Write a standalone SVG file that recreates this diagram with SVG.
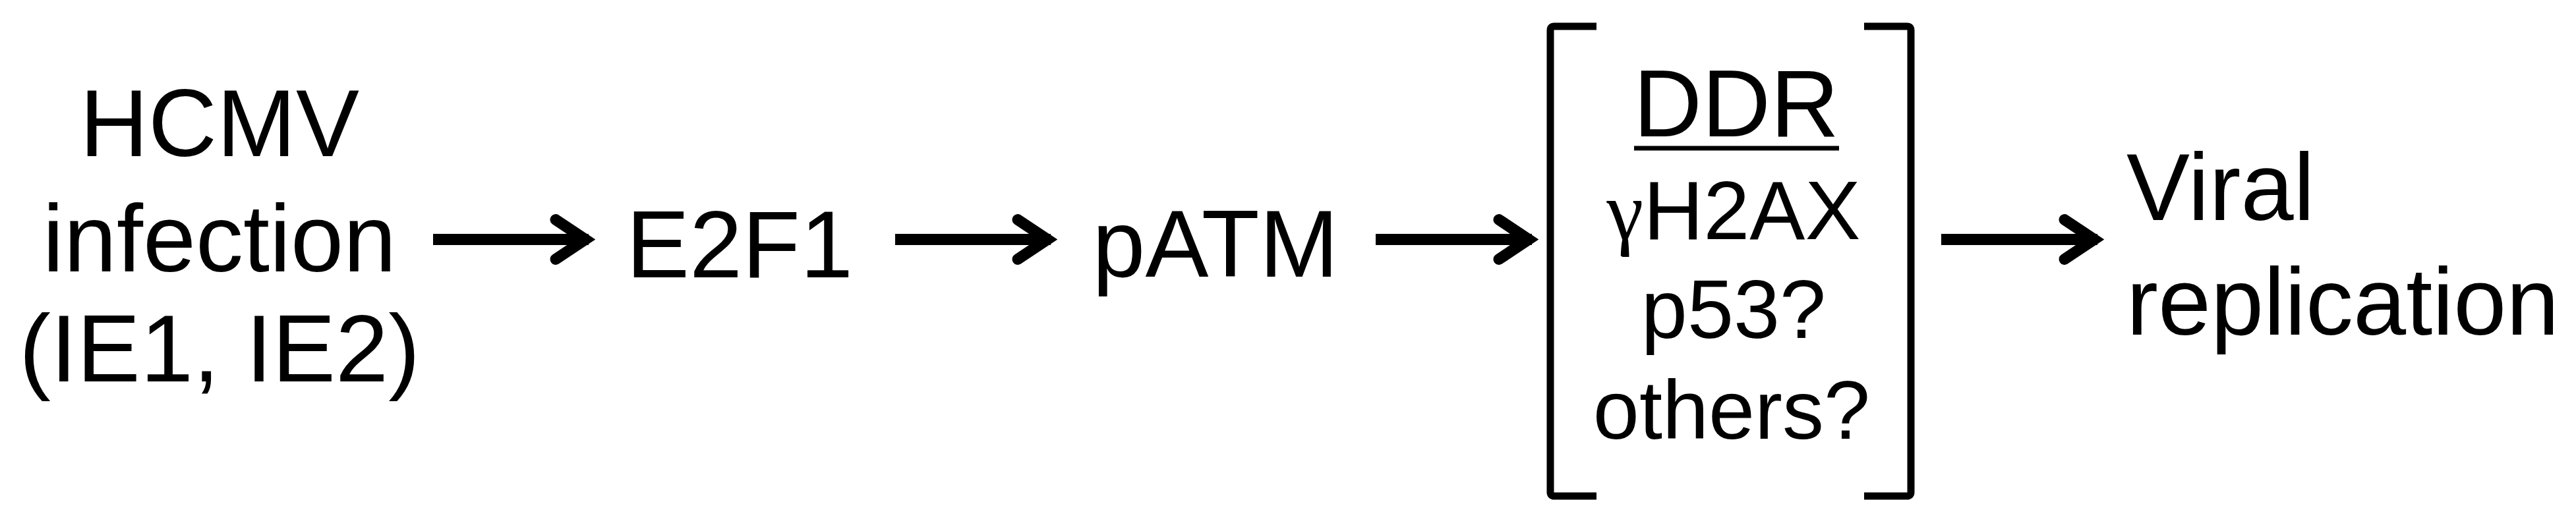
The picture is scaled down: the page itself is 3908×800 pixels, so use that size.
<svg xmlns="http://www.w3.org/2000/svg" width="3908" height="800" viewBox="0 0 3908 800">
<style>
  text { font-family: "Liberation Sans", Arial, sans-serif; fill: #000; }
  .big { font-size: 144px; }
  .mid { font-size: 126px; }
  .greek { font-family: "Liberation Serif", "Times New Roman", serif; }
  .shaft { stroke: #000; stroke-width: 17; fill: none; }
  .head { stroke: #000; stroke-width: 17; fill: none; stroke-linejoin: miter; stroke-linecap: round; }
  .bracket { stroke: #000; stroke-width: 11; fill: none; stroke-linejoin: round; }
</style>
<rect width="3908" height="800" fill="#fff"/>
<g id="node-hcmv">
  <text class="big" x="333" y="237" text-anchor="middle">HCMV</text>
  <text class="big" x="333" y="412" text-anchor="middle">infection</text>
  <text class="big" x="333" y="579" text-anchor="middle">(IE1, IE2)</text>
</g>
<g id="node-e2f1">
  <text class="big" x="1122" y="421" text-anchor="middle">E2F1</text>
</g>
<g id="node-patm">
  <text class="big" x="1844" y="420" text-anchor="middle">pATM</text>
</g>
<g id="node-ddr">
  <path class="bracket" d="M2422,40 L2358,40 Q2352,40 2352,46 L2352,747 Q2352,753 2358,753 L2422,753"/>
  <path class="bracket" d="M2828,40 L2893,40 Q2899,40 2899,46 L2899,747 Q2899,753 2893,753 L2828,753"/>
  <text class="big" x="2634" y="207" text-anchor="middle">DDR</text>
  <line x1="2479" y1="225" x2="2790" y2="225" stroke="#000" stroke-width="7"/>
  <text class="mid" x="2630" y="363" text-anchor="middle"><tspan class="greek">γ</tspan>H2AX</text>
  <text class="mid" x="2630" y="513" text-anchor="middle">p53?</text>
  <text class="mid" x="2627" y="666" text-anchor="middle">others?</text>
</g>
<g id="node-viral">
  <text class="big" x="3226" y="334">Viral</text>
  <text class="big" x="3226" y="508">replication</text>
</g>
<g id="connectors">
  <line class="shaft" x1="657" y1="363.5" x2="893" y2="363.5"/>
  <polyline class="head" points="843,333.5 888,363.5 843,393.5"/>
  <line class="shaft" x1="1358" y1="363.5" x2="1594" y2="363.5"/>
  <polyline class="head" points="1544,333.5 1589,363.5 1544,393.5"/>
  <line class="shaft" x1="2087" y1="363.5" x2="2324" y2="363.5"/>
  <polyline class="head" points="2274,333.5 2319,363.5 2274,393.5"/>
  <line class="shaft" x1="2945" y1="363.5" x2="3182" y2="363.5"/>
  <polyline class="head" points="3132,333.5 3177,363.5 3132,393.5"/>
</g>
</svg>
